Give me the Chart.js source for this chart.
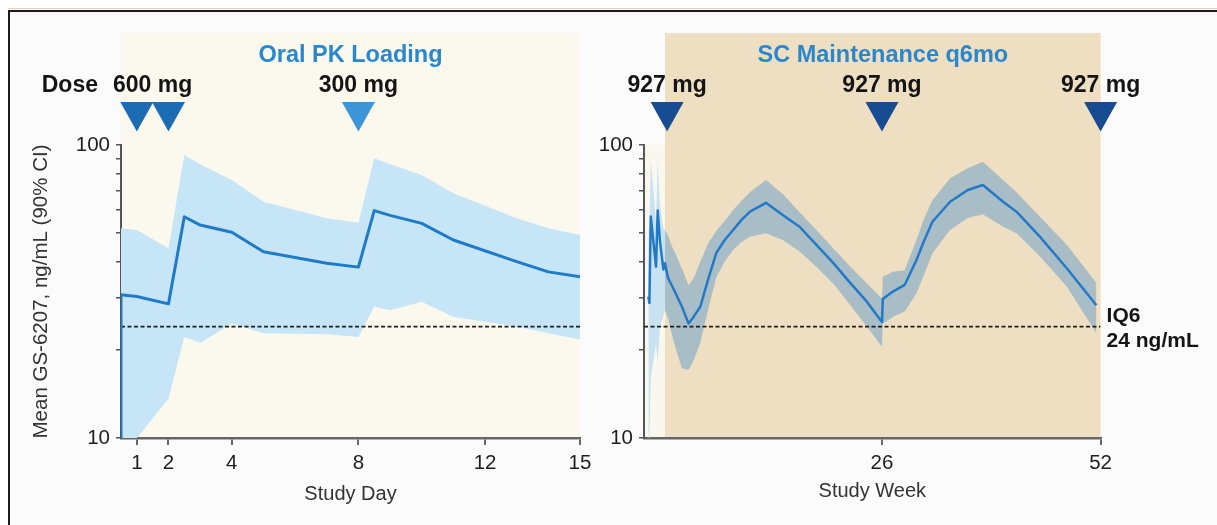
<!DOCTYPE html>
<html><head><meta charset="utf-8">
<script src="https://cdn.jsdelivr.net/npm/chart.js@4.4.1/dist/chart.umd.min.js"></script>
<style>
html,body{margin:0;padding:0;background:#fff;}
#wrap{position:relative;width:1217px;height:525px;overflow:hidden;background:#fff;}
#pink{position:absolute;left:8px;top:8px;width:1300px;height:1px;background:#ebc9bd;}
#frame{position:absolute;left:7.5px;top:10px;width:1300px;height:600px;border-top:2.5px solid #1c1c1c;border-left:2.5px solid #1c1c1c;background:#fbfbfc;}
canvas{position:absolute;top:0;}
#c1{left:0}
#c2{left:600px}
</style></head><body>
<div id="wrap"><div id="pink"></div><div id="frame"></div>
<canvas id="c1" width="600" height="525"></canvas>
<canvas id="c2" width="617" height="525"></canvas>
</div>
<script>
// ---------- data ----------
const yTicks = [10, 20, 30, 40, 50, 60, 70, 80, 90, 100];
const yLabels = [10, 100];
const iq6 = 24;

// Oral PK loading (study day)
const dayTicks = [1, 2, 4, 8, 12, 15];
const oralPhase = [0.5, 15];
const oralDoses600 = [1, 2];
const oralDoses300 = [8];
const oralStartConc = 10;
const oralDays  = [0.5, 1, 2, 2.5, 3, 4, 5, 7, 8, 8.5, 9, 10, 11, 13, 14, 15];
const oralMean  = [30.8, 30.4, 28.7, 56.9, 53.3, 50.4, 43.2, 39.5, 38.3, 59.7, 57.5, 54.0, 47.4, 40.0, 36.9, 35.5];
const oralUpper = [52, 51.3, 44.4, 92.4, 86, 76, 64, 56.2, 54.3, 90.1, 86, 79, 68.4, 56.2, 52, 49.3];
const oralLower = [10, 10, 13.6, 22.1, 21.1, 24.6, 22.8, 22.6, 22.1, 28.1, 27.3, 29.2, 25.9, 24, 22.8, 21.7];

// SC maintenance (study week)
const weekTicks = [26, 52];
const weekRange = [-2.3, 52];
const scPhase = [0.2, 52];
const scDoses = [0.45, 26, 52];
const earlyWeeks = [-1.78, -1.66, -1.49, -0.87, -0.67, -0.4, 0.0, 0.2];
const earlyMean  = [30.4, 28.9, 57, 38.4, 59.8, 47, 37.6, 39.5];
const earlyUpper = [52, 52, 88, 55, 88, 62, 52, 51.3];
const earlyLower = [10, 10, 16, 21, 18, 24, 26, 27.3];
const scWeeks = [0.2, 0.55, 1.0, 1.5, 2.2, 3.0, 3.6, 4.4, 5.3, 6.3, 7.3, 8.3, 9.3, 10.3, 12.2, 14.2, 16.2, 18.2, 20.2, 22.2, 24.2, 26.0, 26.1, 27.3, 28.7, 30.1, 31.0, 32.0, 34.1, 36.2, 38.0, 40.4, 42.0, 44.8, 48.0, 51.5];
const scMean  = [39.5, 35.2, 33.2, 31.0, 28.1, 24.6, 25.9, 28.1, 34.6, 42.8, 47.4, 51.3, 55.5, 59.2, 63.5, 57.7, 52.6, 45.6, 39.6, 33.9, 29.2, 24.9, 29.8, 31.6, 33.3, 40.5, 47, 54.7, 64.0, 70.2, 73.0, 64.0, 59.2, 48.6, 37.9, 28.4];
const scUpper = [51.3, 49.3, 45.3, 42.2, 37.9, 33.3, 35, 40, 46, 51, 55, 60, 64.5, 69, 76, 68, 59, 51.3, 44.4, 38.6, 33.7, 30, 35.5, 36.9, 37.4, 47.4, 56, 64.8, 77, 83.3, 87.7, 76, 69, 56.9, 45.6, 33.8];
const scLower = [27.3, 25.7, 22.6, 20.1, 17.3, 17.1, 18.4, 21.1, 27.3, 35.4, 40, 43.8, 46.7, 48.6, 50, 47.4, 43.3, 38.4, 33.7, 28.5, 24, 20.5, 24.5, 25.9, 27, 31.2, 36, 42.7, 51.3, 56.4, 58, 52.6, 50, 41.6, 32.8, 22.8];

// ---------- helpers ----------
const FONT = '"Liberation Sans", Arial, Helvetica, sans-serif';
Chart.defaults.font.family = FONT;
const pts = (xs, ys) => xs.map((x, i) => ({x, y: ys[i]}));

const panelDeco = {
  id: 'panelDeco',
  beforeDraw(chart, args, o) {
    const {ctx, chartArea: ca, scales: {x}} = chart;
    ctx.save();
    (o.regions || []).forEach(r => {
      const x0 = x.getPixelForValue(r.from), x1 = x.getPixelForValue(r.to);
      const top = r.fromArea ? ca.top : 33;
      ctx.fillStyle = r.color;
      ctx.fillRect(x0, top, x1 - x0, ca.bottom - top);
    });
    ctx.restore();
  },
  afterDraw(chart, args, o) {
    const {ctx, scales: {x, y}} = chart;
    ctx.save();
    ctx.textBaseline = 'alphabetic';
    if (o.title) {
      ctx.font = 'bold 23.5px ' + FONT;
      ctx.fillStyle = '#2b87cc';
      ctx.textAlign = 'center';
      const t0 = x.getPixelForValue(o.title.from), t1 = x.getPixelForValue(o.title.to);
      ctx.fillText(o.title.text, (t0 + t1) / 2, 62);
    }
    ctx.font = 'bold 23px ' + FONT;
    ctx.fillStyle = '#141414';
    (o.labels || []).forEach(l => {
      ctx.textAlign = l.align || 'center';
      const px = l.px !== undefined ? l.px : l.at.reduce((s, v) => s + x.getPixelForValue(v), 0) / l.at.length;
      ctx.fillText(l.text, px, 92);
    });
    (o.triangles || []).forEach(t => {
      t.at.forEach(v => {
        const cx = x.getPixelForValue(v);
        ctx.fillStyle = t.color;
        ctx.beginPath();
        ctx.moveTo(cx - 16.5, 102); ctx.lineTo(cx + 16.5, 102); ctx.lineTo(cx, 131.5);
        ctx.closePath(); ctx.fill();
      });
    });
    if (o.iqLabel) {
      const yp = y.getPixelForValue(iq6);
      ctx.font = 'bold 21px ' + FONT;
      ctx.fillStyle = '#141414';
      ctx.textAlign = 'left';
      ctx.fillText('IQ6', chart.chartArea.right + 6, yp - 4.5);
      ctx.fillText(iq6 + ' ng/mL', chart.chartArea.right + 6, yp + 20);
    }
    ctx.restore();
  }
};

function yAxis(width, title) {
  return {
    type: 'logarithmic', min: 10, max: 100,
    afterBuildTicks: s => { s.ticks = yTicks.map(v => ({value: v})); },
    afterFit: s => { s.width = width; },
    ticks: {callback: v => yLabels.includes(v) ? String(v) : '', color: '#1e1e1e', font: {size: 20.5}, padding: 6, autoSkip: false, maxRotation: 0},
    grid: {drawOnChartArea: false, drawTicks: true, tickLength: 5, color: '#555', lineWidth: 1.5},
    border: {display: true, color: '#555', width: 2},
    title: title ? {display: true, text: title, font: {size: 20.5}, color: '#333', padding: {top: 29.5, bottom: 0}} : {display: false}
  };
}
function xAxis(range, ticks, title, titlePad) {
  return {
    type: 'linear', min: range[0], max: range[1],
    afterBuildTicks: s => { s.ticks = ticks.map(v => ({value: v})); },
    afterFit: s => { s.height = 87; },
    ticks: {callback: v => String(v), color: '#1e1e1e', font: {size: 20.5}, padding: 6, autoSkip: false, maxRotation: 0},
    grid: {drawOnChartArea: false, tickLength: 7, color: '#666', lineWidth: 2},
    border: {display: true, color: '#666', width: 2.5},
    title: {display: true, text: title, font: {size: 20}, color: '#333', padding: {top: 0, bottom: titlePad}}
  };
}
const line = (data, color, width, extra) => Object.assign({data, showLine: true, borderColor: color, borderWidth: width, pointRadius: 0, fill: false, borderJoinStyle: 'round'}, extra || {});
const band = (data, color) => ({data, showLine: true, borderWidth: 0, borderColor: 'rgba(0,0,0,0)', pointRadius: 0, fill: color ? '+1' : false, backgroundColor: color || 'rgba(0,0,0,0)'});
const common = {responsive: false, animation: false, devicePixelRatio: 1, events: []};

// ---------- left panel ----------
new Chart(document.getElementById('c1'), {
  type: 'scatter',
  data: {datasets: [
    line([{x: oralDays[0], y: oralStartConc}].concat(pts(oralDays, oralMean)), '#1f7bc8', 3),
    line([{x: oralPhase[0], y: iq6}, {x: oralPhase[1], y: iq6}], '#1e1e1e', 1.7, {borderDash: [4, 2.5]}),
    band(pts(oralDays, oralUpper), '#c6e5f7'),
    band(pts(oralDays, oralLower))
  ]},
  options: Object.assign({}, common, {
    layout: {padding: {left: 0, right: 20, top: 145, bottom: 0}},
    scales: {x: xAxis(oralPhase, dayTicks, 'Study Day', 19), y: yAxis(121, 'Mean GS-6207, ng/mL (90% CI)')},
    plugins: {legend: {display: false}, tooltip: {enabled: false},
      panelDeco: {
        regions: [{from: oralPhase[0], to: oralPhase[1], color: '#fbf8ee'}],
        title: {text: 'Oral PK Loading', from: oralPhase[0], to: oralPhase[1]},
        labels: [{text: 'Dose', px: 98, align: 'right'}, {text: '600 mg', at: oralDoses600}, {text: '300 mg', at: oralDoses300}],
        triangles: [{at: oralDoses600, color: '#1b6bb5'}, {at: oralDoses300, color: '#3b95d6'}]
      }}
  }),
  plugins: [panelDeco]
});

// ---------- right panel ----------
new Chart(document.getElementById('c2'), {
  type: 'scatter',
  data: {datasets: [
    line(pts(earlyWeeks, earlyMean).concat(pts(scWeeks, scMean)), '#2479c7', 2.5),
    line([{x: weekRange[0], y: iq6}, {x: weekRange[1], y: iq6}], '#1e1e1e', 1.7, {borderDash: [4, 2.5]}),
    band(pts(scWeeks, scUpper), '#a8bdc6'),
    band(pts(scWeeks, scLower)),
    band(pts(earlyWeeks, earlyUpper), '#c8e2f2'),
    band(pts(earlyWeeks, earlyLower))
  ]},
  options: Object.assign({}, common, {
    layout: {padding: {left: 0, right: 116.4, top: 145, bottom: 0}},
    scales: {x: xAxis(weekRange, weekTicks, 'Study Week', 22), y: yAxis(44, null)},
    plugins: {legend: {display: false}, tooltip: {enabled: false},
      panelDeco: {
        regions: [{from: weekRange[0], to: scPhase[0], color: '#faf7ef', fromArea: true}, {from: scPhase[0], to: scPhase[1], color: '#eedfc3'}],
        title: {text: 'SC Maintenance q6mo', from: scPhase[0], to: scPhase[1]},
        labels: scDoses.map(d => ({text: '927 mg', at: [d]})),
        triangles: [{at: scDoses, color: '#174b92'}],
        iqLabel: true
      }}
  }),
  plugins: [panelDeco]
});
</script>
</body></html>
